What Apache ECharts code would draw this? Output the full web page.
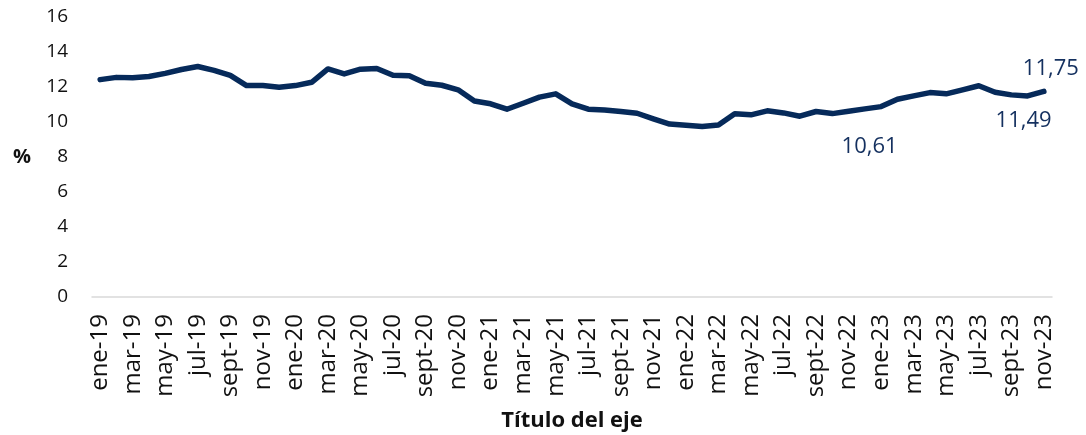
<!DOCTYPE html>
<html>
<head>
<meta charset="utf-8">
<title>Tasa</title>
<script src="https://cdn.jsdelivr.net/npm/echarts@6/dist/echarts.min.js"></script>
<style>
  html, body { margin: 0; padding: 0; background: #fff; }
  #mainChart { width: 1086px; height: 435px; }
</style>
</head>
<body>
<div id="mainChart"></div>
<script>
// meses (ene-19 .. nov-23)
const meses = ['ene','feb','mar','abr','may','jun','jul','ago','sept','oct','nov','dic']
const anios = ['19','20','21','22','23']
const categorias = []
anios.forEach(a => meses.forEach(m => categorias.push(m + '-' + a)))
categorias.length = 59

// valores en %
const valores = [
  12.42, 12.55, 12.53, 12.60, 12.78, 13.00, 13.17, 12.95, 12.66, 12.08, 12.08, 11.98,
  12.08, 12.27, 13.03, 12.75, 13.02, 13.06, 12.67, 12.64, 12.22, 12.10, 11.84, 11.20,
  11.04, 10.73, 11.07, 11.42, 11.61, 11.04, 10.73, 10.69, 10.60, 10.50, 10.18, 9.88,
  9.82, 9.74, 9.83, 10.47, 10.41, 10.64, 10.52, 10.33, 10.60, 10.48, 10.61, 10.75,
  10.88, 11.30, 11.49, 11.68, 11.61, 11.84, 12.07, 11.70, 11.55, 11.49, 11.75
]

// puntos con etiqueta: indice -> posicion y desplazamiento
const etiquetas = [
  {idx: 46, position: 'bottom', dx: 21, dy: 19},
  {idx: 57, position: 'bottom', dx: -4, dy: 8},
  {idx: 58, position: 'top', dx: 7, dy: -6}
]

const ticksY = {min: 0, max: 16, interval: 2}

const fuente = '"Open Sans", "Noto Sans", sans-serif'
const azul = '#062a5a'

const serieData = valores.map((v, i) => {
  const e = etiquetas.find(item => item.idx === i)
  if (!e) return v
  return {
    value: v,
    label: {
      show: true,
      position: e.position,
      distance: 5,
      color: '#14305f',
      fontSize: 22,
      fontFamily: fuente,
      formatter: p => p.value.toFixed(2).replace('.', ',')
    }
  }
})

const mainChart = echarts.init(document.getElementById('mainChart'), null, {renderer: 'canvas'})
mainChart.setOption({
  backgroundColor: '#fff',
  animation: false,
  grid: {
    left: 92,
    right: 34,
    top: 17,
    bottom: 138,
    outerBoundsMode: 'none'
  },
  xAxis: {
    type: 'category',
    data: categorias,
    boundaryGap: true,
    name: 'Título del eje',
    nameLocation: 'middle',
    nameGap: 113,
    nameTextStyle: {
      fontFamily: fuente,
      fontWeight: 'bold',
      fontSize: 22,
      color: '#111',
      verticalAlign: 'top'
    },
    axisLine: {
      show: true,
      lineStyle: {color: '#d9d9d9', width: 1.5}
    },
    axisTick: {show: false},
    axisLabel: {
      interval: 1,
      rotate: 90,
      margin: 17,
      fontFamily: fuente,
      fontSize: 24,
      color: '#111'
    },
    splitLine: {show: false}
  },
  yAxis: {
    type: 'value',
    min: ticksY.min,
    max: ticksY.max,
    interval: ticksY.interval,
    name: '%',
    nameLocation: 'middle',
    nameRotate: 0,
    nameGap: 61,
    nameTextStyle: {
      fontFamily: fuente,
      fontWeight: 'bold',
      fontSize: 20,
      color: '#111'
    },
    axisLine: {show: false},
    axisTick: {show: false},
    axisLabel: {
      margin: 24,
      fontFamily: fuente,
      fontSize: 19,
      color: '#111'
    },
    splitLine: {show: false}
  },
  series: [
    {
      name: 'tasa',
      type: 'line',
      data: serieData,
      showSymbol: true,
      symbol: 'circle',
      symbolSize: 1,
      itemStyle: {color: 'transparent', borderWidth: 0},
      lineStyle: {color: azul, width: 5.5, cap: 'round', join: 'round'},
      label: {show: false},
      // mover etiquetas como en el original
      labelLayout: p => {
        const e = etiquetas.find(item => item.idx === p.dataIndex)
        return e ? {dx: e.dx, dy: e.dy, hideOverlap: false} : {}
      },
      emphasis: {disabled: true}
    }
  ]
})
</script>
</body>
</html>
